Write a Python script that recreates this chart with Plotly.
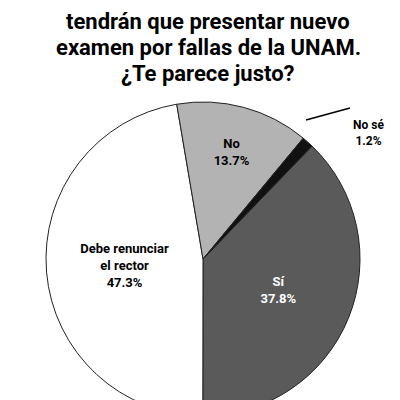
import plotly.graph_objects as go

labels = ["Sí", "Debe renunciar<br>el rector", "No", "No sé"]
values = [37.8, 47.3, 13.7, 1.2]
colors = ["#5a5a5a", "#ffffff", "#b3b3b3", "#111111"]
text_colors = ["white", "black", "black", "black"]
title_lines = ["tendrán que presentar nuevo", "examen por fallas de la UNAM.", "¿Te parece justo?"]

H = 420
FONT = "Liberation Sans Narrow, Roboto, Arial"

texts = [f"<b>{l}<br>{v}%</b>" if l != "No sé" else "" for l, v in zip(labels, values)]

fig = go.Figure(go.Pie(
    labels=labels, values=values, sort=False, direction="clockwise", rotation=44,
    marker=dict(colors=colors, line=dict(color="#222", width=1)),
    text=texts, textinfo="text", textposition="inside", insidetextorientation="horizontal",
    textfont=dict(family=FONT, size=13, color=text_colors),
    domain=dict(x=[38/400, 352/400], y=[0, 1 - 82/H]), showlegend=False, hoverinfo="skip",
))

ann = []
for i, t in enumerate(title_lines):
    ann.append(dict(text=f"<b>{t}</b>", x=0.5, y=1 - (13 + 26*i)/H, xref="paper", yref="paper",
                    showarrow=False, font=dict(family=FONT, size=22, color="black"), yanchor="middle"))
ann.append(dict(text="<b>No sé<br>1.2%</b>", x=343/400, y=1 - 108/H, xref="paper", yref="paper",
                showarrow=False, align="center", xanchor="left",
                font=dict(family=FONT, size=12, color="black")))
fig.update_layout(
    width=400, height=H, margin=dict(l=0, r=0, t=0, b=0), paper_bgcolor="white",
    annotations=ann,
    shapes=[dict(type="line", xref="paper", yref="paper", x0=298/400, y0=1-112/H, x1=342/400, y1=1-100/H,
                 line=dict(color="black", width=1.5))],
)
fig.write_html("out.html")
